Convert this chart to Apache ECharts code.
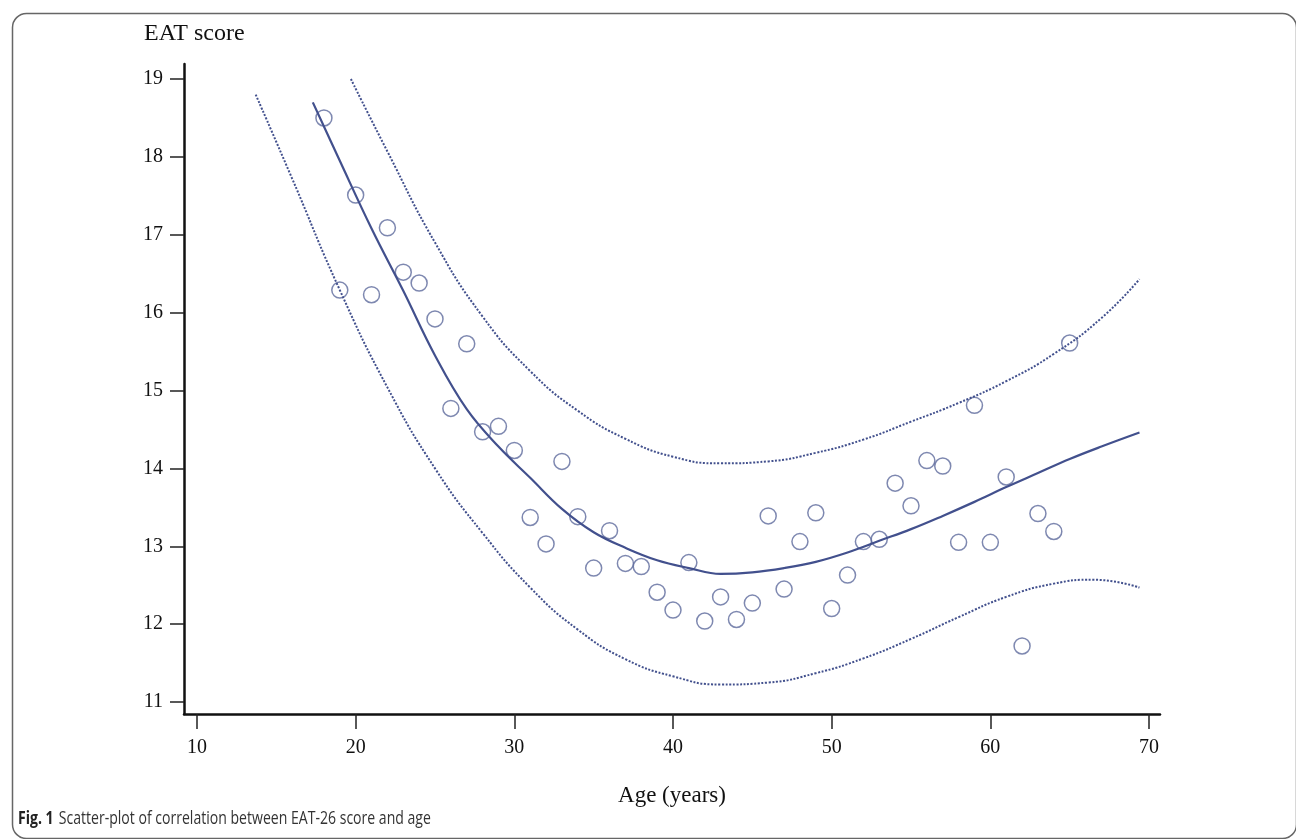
<!DOCTYPE html>
<html>
<head>
<meta charset="utf-8">
<script src="https://cdn.jsdelivr.net/npm/echarts@6/dist/echarts.min.js"></script>
<style>
  html, body { margin: 0; padding: 0; background: #fff; }
  #main { width: 1296px; height: 839px; }
</style>
</head>
<body>
<div id="main"></div>
<script>
// observed points: one per age, 18..65
var ages = [18, 19, 20, 21, 22, 23, 24, 25, 26, 27, 28, 29, 30, 31, 32, 33,
  34, 35, 36, 37, 38, 39, 40, 41, 42, 43, 44, 45, 46, 47, 48, 49,
  50, 51, 52, 53, 54, 55, 56, 57, 58, 59, 60, 61, 62, 63, 64, 65];
var scores = [18.50, 16.29, 17.51, 16.23, 17.09, 16.52, 16.38, 15.92, 14.77, 15.60, 14.47, 14.54, 14.23, 13.37, 13.03, 14.09,
  13.38, 12.72, 13.20, 12.78, 12.74, 12.41, 12.18, 12.79, 12.04, 12.35, 12.06, 12.27, 13.39, 12.45, 13.06, 13.43,
  12.20, 12.63, 13.06, 13.09, 13.81, 13.52, 14.10, 14.03, 13.05, 14.81, 13.05, 13.89, 11.72, 13.42, 13.19, 15.61];

// fitted curve
var fitX = [17.3, 19, 21, 23, 25, 27, 29, 31, 33, 35, 37, 39, 41, 43, 45, 47, 49, 51, 53, 55, 57, 59, 61, 63, 65, 67, 69.4];
var fitY = [18.70, 17.95, 17.08, 16.28, 15.45, 14.76, 14.28, 13.88, 13.48, 13.18, 12.98, 12.82, 12.72, 12.645, 12.665, 12.72, 12.80, 12.92, 13.07, 13.22, 13.39, 13.57, 13.76, 13.94, 14.12, 14.28, 14.46];

// upper band
var upX = [19.7, 22, 25, 28, 31, 34, 37, 40, 43, 46, 49, 52, 55, 58, 61, 64, 67, 69.4];
var upY = [19.00, 18.07, 16.90, 15.95, 15.25, 14.74, 14.38, 14.15, 14.065, 14.09, 14.20, 14.37, 14.60, 14.84, 15.12, 15.47, 15.93, 16.43];

// lower band
var loX = [13.7, 16, 19, 22, 25, 28, 31, 34, 37, 40, 43, 46, 49, 52, 55, 58, 61, 64, 66.5, 69.4];
var loY = [18.80, 17.72, 16.29, 15.04, 14.00, 13.17, 12.47, 11.93, 11.55, 11.33, 11.225, 11.25, 11.37, 11.56, 11.81, 12.09, 12.35, 12.52, 12.57, 12.47];

var xTicks = [10, 20, 30, 40, 50, 60, 70];
var yTicks = [11, 12, 13, 14, 15, 16, 17, 18, 19];

var navy = '#42508d';
var serif = '"Liberation Serif", "Times New Roman", serif';
var sans = '"Open Sans", "Noto Sans", sans-serif';

function pairs(xs, ys) {
  return xs.map(function (x, i) { return [x, ys[i]]; });
}

var chart = echarts.init(document.getElementById('main'));
chart.setOption({
  animation: false,
  backgroundColor: '#fff',
  grid: { left: 184, top: 64, width: 976, height: 650 },
  xAxis: {
    type: 'value',
    min: 9.181, max: 70.693,
    name: 'Age (years)',
    nameLocation: 'middle',
    nameGap: 70,
    nameTextStyle: { fontFamily: serif, fontSize: 23, color: '#111' },
    axisLine: { show: true, onZero: false, lineStyle: { color: '#111', width: 2.5 } },
    axisTick: { show: true, length: 15, customValues: xTicks, lineStyle: { color: '#222', width: 1.5 } },
    axisLabel: { customValues: xTicks, margin: 24, fontFamily: serif, fontSize: 20, color: '#111' },
    splitLine: { show: false }
  },
  yAxis: {
    type: 'value',
    min: 10.846, max: 19.193,
    axisLine: { show: true, onZero: false, lineStyle: { color: '#111', width: 2.5 } },
    axisTick: { show: true, length: 14, customValues: yTicks, lineStyle: { color: '#222', width: 1.5 } },
    axisLabel: { customValues: yTicks, margin: 21, fontFamily: serif, fontSize: 20, color: '#111' },
    splitLine: { show: false }
  },
  graphic: [
    {
      type: 'rect', left: 10, top: 11, silent: true,
      shape: { width: 1284, height: 825, r: 14 },
      style: { fill: 'none', stroke: '#666', lineWidth: 1.5 }
    },
    {
      type: 'text', left: 144, top: 22,
      style: { text: 'EAT score', font: '24px ' + serif, fill: '#111' }
    },
    {
      type: 'text', left: 18, top: 809, scaleX: 0.76,
      style: {
        rich: {
          b: { fontFamily: sans, fontWeight: 'bold', fontSize: 18.5, fill: '#222' },
          n: { fontFamily: sans, fontSize: 18.5, fill: '#333' }
        },
        text: '{b|Fig. 1}  {n|Scatter-plot of correlation between EAT-26 score and age}'
      }
    }
  ],
  series: [
    {
      type: 'line', data: pairs(upX, upY), smooth: true, showSymbol: false, silent: true,
      lineStyle: { color: navy, width: 2, type: [2, 1.6] }
    },
    {
      type: 'line', data: pairs(loX, loY), smooth: true, showSymbol: false, silent: true,
      lineStyle: { color: navy, width: 2, type: [2, 1.6] }
    },
    {
      type: 'line', data: pairs(fitX, fitY), smooth: 0.4, showSymbol: false, silent: true,
      lineStyle: { color: navy, width: 2.2 }
    },
    {
      type: 'scatter', data: pairs(ages, scores), symbol: 'circle', symbolSize: 16,
      itemStyle: { color: 'rgba(255,255,255,0)', borderColor: '#5e6a9c', borderWidth: 1.5 }
    }
  ]
});
</script>
</body>
</html>
